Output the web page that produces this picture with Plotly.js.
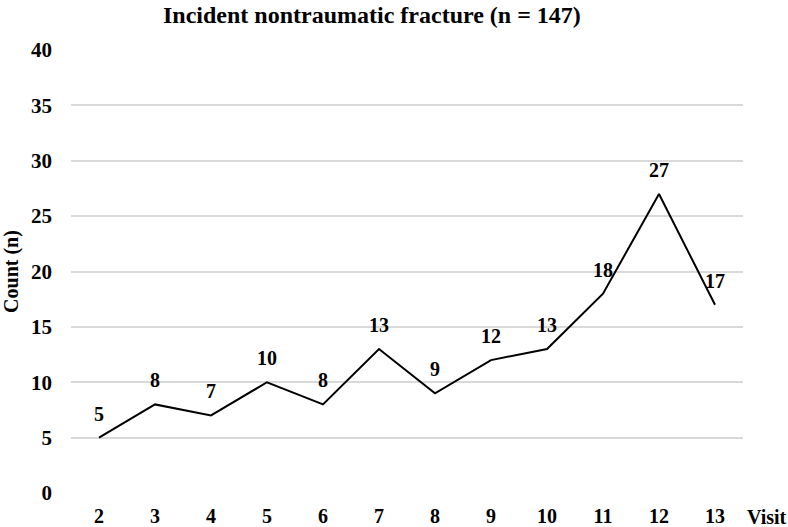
<!DOCTYPE html>
<html>
<head>
<meta charset="utf-8">
<script src="https://cdn.plot.ly/plotly-3.0.1.min.js"></script>
<style>
  body { margin: 0; background: #fff; }
  #chart { width: 788px; height: 527px; }
</style>
</head>
<body>
<div id="chart"></div>
<script>
var visits = ["2", "3", "4", "5", "6", "7", "8", "9", "10", "11", "12", "13"];
var counts = [5, 8, 7, 10, 8, 13, 9, 12, 13, 18, 27, 17];
var yTicks = [0, 5, 10, 15, 20, 25, 30, 35, 40];

var serif = "Liberation Serif, Times New Roman, serif";

var trace = {
  x: visits,
  y: counts,
  type: "scatter",
  mode: "lines",
  line: {color: "#000", width: 2},
  hoverinfo: "x+y"
};

// value labels above each point (x given as category index)
var labels = visits.map(function(v, i) {
  return {
    x: i, y: counts[i], xref: "x", yref: "y",
    text: "<b>" + counts[i] + "</b>",
    showarrow: false, yshift: 24,
    font: {family: serif, size: 20, color: "#000"}
  };
});

labels.push({
  text: "<b>Visit</b>",
  xref: "paper", yref: "paper",
  x: 1.0, y: 0,
  xanchor: "left", yanchor: "middle",
  xshift: 2, yshift: -24,
  showarrow: false,
  font: {family: serif, size: 20, color: "#000"}
});

var layout = {
  width: 788,
  height: 527,
  margin: {l: 71, r: 45, t: 50, b: 34},
  paper_bgcolor: "#fff",
  plot_bgcolor: "#fff",
  showlegend: false,
  font: {family: serif, color: "#000"},
  title: {
    text: "<b>Incident nontraumatic fracture (n = 147)</b>",
    font: {family: serif, size: 24, color: "#000"},
    x: 0.472, xanchor: "center",
    y: 0.988, yanchor: "top"
  },
  xaxis: {
    type: "category",
    range: [-0.5, 11.5],
    showgrid: false,
    zeroline: false,
    showline: false,
    ticks: "",
    ticklabelstandoff: 9,
    tickfont: {family: serif, size: 20, color: "#000", weight: "bold"}
  },
  yaxis: {
    range: [0, 40],
    tickvals: yTicks,
    showgrid: true,
    gridcolor: "#d9d9d9",
    gridwidth: 1.5,
    zeroline: false,
    showline: false,
    ticks: "",
    ticklabelstandoff: 18,
    tickfont: {family: serif, size: 21, color: "#000", weight: "bold"},
    title: {
      text: "<b>Count (n)</b>",
      font: {family: serif, size: 20, color: "#000"},
      standoff: 11
    }
  },
  annotations: labels
};

Plotly.newPlot("chart", [trace], layout, {displayModeBar: false});
</script>
</body>
</html>
